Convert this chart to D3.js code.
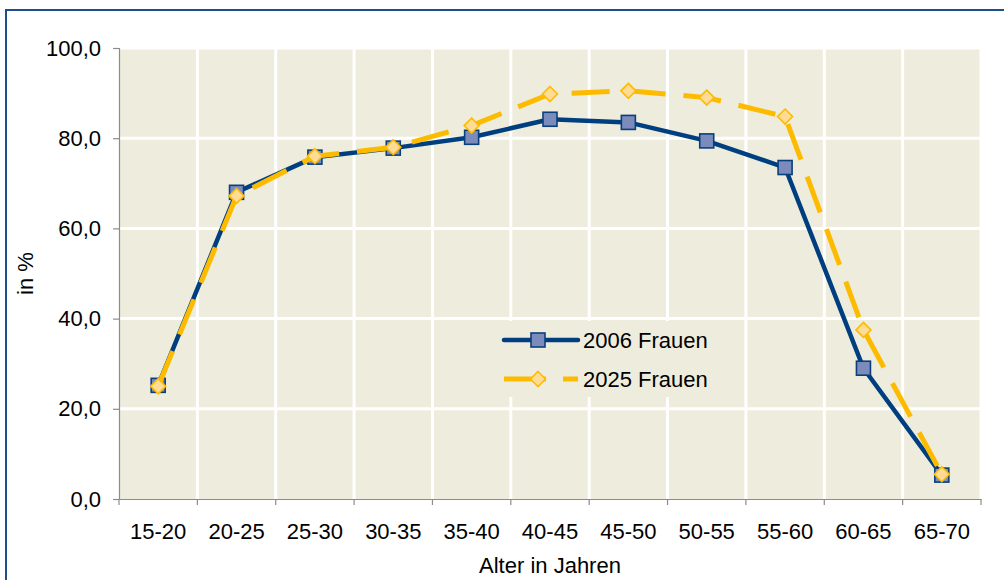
<!DOCTYPE html>
<html><head><meta charset="utf-8">
<script src="https://cdn.jsdelivr.net/npm/d3@7"></script>
<style>body{margin:0;background:#fff}svg{display:block}text{font-family:"Liberation Sans",Arial,sans-serif;fill:#000}</style>
</head><body><svg id="c" width="1004" height="580"></svg>
<script>
const categories = ["15-20","20-25","25-30","30-35","35-40","40-45","45-50","50-55","55-60","60-65","65-70"];
const frauen2006 = [25.2,68.0,75.8,77.8,80.2,84.2,83.5,79.4,73.5,29.0,5.3];
const frauen2025 = [25.0,67.2,76.0,78.0,82.8,89.8,90.5,89.0,84.8,37.5,5.5];
const yTicks = [0,20,40,60,80,100];
const seriesNames = ["2006 Frauen","2025 Frauen"];

const svg = d3.select("#c");
const L=119, R=981, T=48, B=499;
const x = d3.scaleBand().domain(categories).range([L,R]).padding(0);
const y = d3.scaleLinear().domain([0,100]).range([B,T]);
const fmt = v => d3.format(".1f")(v).replace(".",",");

// outer border
svg.append("rect").attr("x",6).attr("y",10).attr("width",1100).attr("height",700)
  .attr("fill","#fff").attr("stroke","#1F4E8C").attr("stroke-width",2);

// plot bg
svg.append("rect").attr("x",L).attr("y",T).attr("width",R-L).attr("height",B-T).attr("fill","#EEECDC");

// gridlines
const bounds = categories.map(c=>x(c)).concat([R]);
svg.append("g").selectAll("line").data(yTicks.filter(d=>d>0)).join("line")
  .attr("x1",L).attr("x2",R).attr("y1",d=>y(d)).attr("y2",d=>y(d))
  .attr("stroke","#fff").attr("stroke-width",3);
svg.append("g").selectAll("line").data(bounds.slice(1)).join("line")
  .attr("x1",d=>d).attr("x2",d=>d).attr("y1",T).attr("y2",B)
  .attr("stroke","#fff").attr("stroke-width",3);

// axes
const yAxis = d3.axisLeft(y).tickValues(yTicks).tickFormat(fmt).tickSize(6).tickPadding(12);
const gy = svg.append("g").attr("transform",`translate(${L},0)`).call(yAxis);
gy.select(".domain").attr("stroke","#8C8C8C").attr("stroke-width",1.2);
gy.selectAll(".tick line").attr("stroke","#8C8C8C").attr("stroke-width",1.2);
gy.selectAll(".tick text").attr("font-size",22).attr("font-family","Liberation Sans, Arial, sans-serif").attr("fill","#000");

const xAxis = d3.axisBottom(x).tickSize(0).tickPadding(24);
const gx = svg.append("g").attr("transform",`translate(0,${B})`).call(xAxis);
gx.select(".domain").attr("stroke","#8C8C8C").attr("stroke-width",1.2);
gx.selectAll(".tick text").attr("font-size",22).attr("font-family","Liberation Sans, Arial, sans-serif").attr("fill","#000");
svg.append("g").selectAll("line").data(bounds).join("line")
  .attr("x1",d=>d).attr("x2",d=>d).attr("y1",B).attr("y2",B+6)
  .attr("stroke","#8C8C8C").attr("stroke-width",1.2);

svg.append("text").attr("x",(L+R)/2).attr("y",573).attr("text-anchor","middle").attr("font-size",22).text("Alter in Jahren");
svg.append("text").attr("transform",`translate(33,${(T+B)/2}) rotate(-90)`).attr("text-anchor","middle").attr("font-size",22).text("in %");

const cx = c => x(c)+x.bandwidth()/2;
const line = d3.line().x((d,i)=>cx(categories[i])).y(d=>y(d));

const blue="#003F7F", sqFill="#7A8BBC", yel="#FDBB00", dFill="#FFDC96";
const diamond = d3.symbol().type(d3.symbolDiamond2 || d3.symbolDiamond);

function drawSquare(g, px, py){
  g.append("rect").attr("x",px-7).attr("y",py-7).attr("width",14).attr("height",14)
   .attr("fill",sqFill).attr("stroke","#0B3F7C").attr("stroke-width",1.6);
}
function drawDiamond(g, px, py){
  g.append("path").attr("transform",`translate(${px},${py})`)
   .attr("d","M0,-7.5L7.5,0L0,7.5L-7.5,0Z")
   .attr("fill",dFill).attr("stroke",yel).attr("stroke-width",1.6);
}

// 2006
svg.append("path").datum(frauen2006).attr("d",line).attr("fill","none")
  .attr("stroke",blue).attr("stroke-width",4.5).attr("stroke-linejoin","round");
const g1 = svg.append("g");
frauen2006.forEach((v,i)=>drawSquare(g1, cx(categories[i]), y(v)));

// 2025
svg.append("path").datum(frauen2025).attr("d",line).attr("fill","none")
  .attr("stroke",yel).attr("stroke-width",5).attr("stroke-dasharray","38,18");
const g2 = svg.append("g");
frauen2025.forEach((v,i)=>drawDiamond(g2, cx(categories[i]), y(v)));

// legend
const lg = svg.append("g");
lg.append("rect").attr("x",437).attr("y",321).attr("width",307).attr("height",76).attr("fill","#EEECDC");
lg.append("line").attr("x1",504).attr("x2",578).attr("y1",340).attr("y2",340)
  .attr("stroke",blue).attr("stroke-width",4.5).attr("stroke-linecap","round");
drawSquare(lg, 538, 340);
lg.append("text").attr("x",583).attr("y",348).attr("font-size",22).text(seriesNames[0]);
lg.append("line").attr("x1",504).attr("x2",578).attr("y1",379).attr("y2",379)
  .attr("stroke",yel).attr("stroke-width",5).attr("stroke-dasharray","42,17");
drawDiamond(lg, 538, 379);
lg.append("text").attr("x",583).attr("y",387).attr("font-size",22).text(seriesNames[1]);
</script></body></html>
